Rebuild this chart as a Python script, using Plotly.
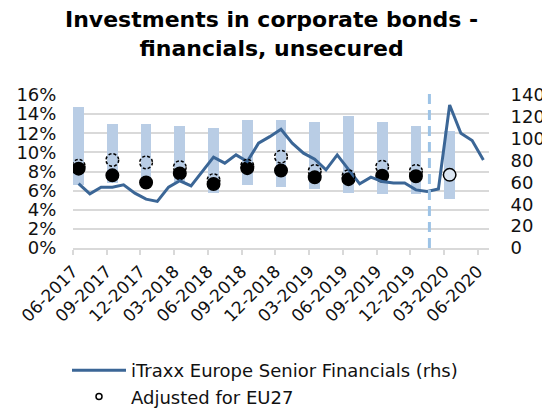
import plotly.graph_objects as go
import pandas as pd

# ---------------- data ----------------
months = list(pd.date_range("2017-06-01", "2020-06-01", freq="MS").strftime("%m-%Y"))
tick_labels = ["06-2017", "09-2017", "12-2017", "03-2018", "06-2018", "09-2018",
               "12-2018", "03-2019", "06-2019", "09-2019", "12-2019", "03-2020", "06-2020"]

# iTraxx Europe Senior Financials (rhs), monthly
itraxx = [59.0, 49.6, 55.7, 55.7, 57.8, 50.2, 44.7, 42.6, 55.7, 61.5, 56.9, 70.0,
          83.1, 77.6, 85.2, 79.1, 95.9, 101.9, 108.7, 95.9, 86.8, 81.3, 71.5, 85.2,
          71.5, 58.7, 64.8, 60.8, 59.4, 59.4, 53.2, 51.7, 53.9, 130.9, 105.0, 98.3, 80.6]

# quarterly ranges (%, lhs)
bar_quarters = ["06-2017", "09-2017", "12-2017", "03-2018", "06-2018", "09-2018",
                "12-2018", "03-2019", "06-2019", "09-2019", "12-2019", "03-2020"]
range_low = [6.6, 6.8, 6.6, 6.9, 5.8, 6.6, 6.4, 6.2, 5.7, 5.6, 5.6, 5.1]
range_high = [14.7, 13.0, 13.0, 12.8, 12.6, 13.4, 13.4, 13.2, 13.8, 13.2, 12.8, 12.2]

# investment share (%, lhs)
share = [8.3, 7.6, 6.85, 7.8, 6.7, 8.35, 8.1, 7.4, 7.2, 7.55, 7.5, 7.65]

# adjusted for EU27 (%, lhs)
adj_quarters = bar_quarters[:11]
adjusted = [8.6, 9.2, 8.95, 8.45, 7.1, 8.6, 9.55, 8.05, 7.5, 8.5, 8.05]

brexit_month = "01-2020"

# ---------------- styling ----------------
FONT = "DejaVu Sans"
BAR_COL = "#b9cde5"
LINE_COL = "#3b6696"
GRID = "#d9d9d9"

pos = {m: i for i, m in enumerate(months)}
bar_x = [pos[q] for q in bar_quarters]
adj_x = [pos[q] for q in adj_quarters]
label_pos = [pos[t] - 0.5 for t in tick_labels]
XR = [-0.5, len(months) - 0.5]

fig = go.Figure()

fig.add_trace(go.Bar(
    x=bar_x, y=[h - l for h, l in zip(range_high, range_low)], base=range_low,
    width=0.95, marker=dict(color=BAR_COL, line=dict(width=0)),
    showlegend=False, yaxis="y"))

n = len(share)
fig.add_trace(go.Scatter(
    x=bar_x, y=share, mode="markers", showlegend=False, yaxis="y",
    marker=dict(size=12.5,
                color=["black"] * (n - 1) + ["rgba(255,255,255,0.5)"],
                line=dict(color="black", width=1.5))))

fig.add_trace(go.Scatter(
    x=list(range(len(itraxx))), y=itraxx, mode="lines", yaxis="y2",
    name="iTraxx Europe Senior Financials (rhs)", legendgroup="a",
    line=dict(color=LINE_COL, width=3)))

# legend entry for adjusted series (drawn on the plot as dashed circles)
fig.add_trace(go.Scatter(
    x=[None], y=[None], mode="markers", name="Adjusted for EU27",
    legendgroup="b", yaxis="y",
    marker=dict(symbol="circle-open", size=6, color="black", line=dict(width=1.5))))

shapes = []
for xv, v in zip(adj_x, adjusted):
    shapes.append(dict(type="circle", xref="x", yref="y", xsizemode="pixel",
                       ysizemode="pixel", xanchor=xv, yanchor=v,
                       x0=-6.3, x1=6.3, y0=-6.3, y1=6.3,
                       line=dict(color="black", width=1.5, dash="3px,2px"),
                       fillcolor="rgba(0,0,0,0)"))
bx = pos[brexit_month] + 0.2
shapes.append(dict(type="line", xref="x", yref="paper", x0=bx, x1=bx, y0=0, y1=1.01,
                   line=dict(color="#9dc3e6", width=3, dash="10px,6px")))

fig.update_layout(
    width=542, height=408,
    margin=dict(l=65, r=61, t=87, b=168, autoexpand=False),
    paper_bgcolor="white", plot_bgcolor="white",
    font=dict(family=FONT, size=17, color="#111111"),
    annotations=[dict(text="<b>Investments in corporate bonds -<br>financials, unsecured</b>",
                      xref="paper", yref="paper", x=0.478, y=1.59,
                      xanchor="center", yanchor="top", showarrow=False,
                      font=dict(family=FONT, size=22, color="black"))],
    shapes=shapes,
    bargap=0,
    xaxis=dict(range=XR, tickmode="array", tickvals=label_pos,
               ticktext=tick_labels, tickangle=-45, ticks="outside", ticklen=5,
               tickwidth=1.5, tickcolor=GRID, showgrid=False,
               showline=True, linecolor=GRID, linewidth=1.5, zeroline=False,
               tickfont=dict(size=17), automargin=False),
    yaxis=dict(range=[0, 16], dtick=2, ticksuffix="%", showgrid=True,
               gridcolor=GRID, gridwidth=1.5, zeroline=False, showline=False,
               ticks="outside", ticklen=12, tickcolor="rgba(0,0,0,0)",
               tickfont=dict(size=18), automargin=False),
    yaxis2=dict(range=[0, 140], dtick=20, overlaying="y", side="right", anchor="x",
                showgrid=False, zeroline=False, showline=False,
                ticks="outside", ticklen=17, tickcolor="rgba(0,0,0,0)",
                tickfont=dict(size=18), automargin=False),
    legend=dict(orientation="v", x=-6 / 416, xanchor="left", y=-104 / 153,
                yanchor="top", itemwidth=54, traceorder="grouped", tracegroupgap=0,
                font=dict(size=18), bgcolor="rgba(0,0,0,0)"),
)

fig.write_html("out.html")
